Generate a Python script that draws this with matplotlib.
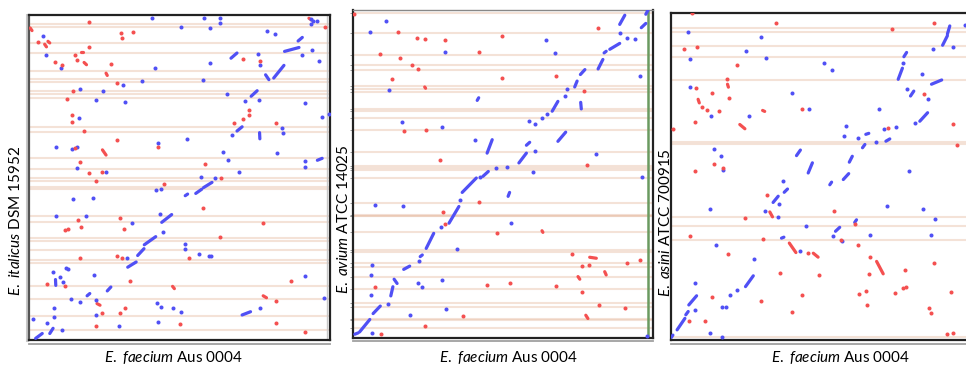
import numpy as np
import matplotlib
matplotlib.use("Agg")
import matplotlib.pyplot as plt

# Dot plots of three Enterococcus genomes against E. faecium Aus 0004.
# Positions are given as % of each genome length (x: Aus 0004, y: other genome).
# Runs are (x0, y0, x1, y1) match blocks, dots are single short matches.

# ---- E. italicus DSM 15952 ----
ita_fwd_runs = [(2.2, 0.5, 4.4, 2.0), (6.9, 2.0, 8.0, 3.6), (19.3, 13.6, 20.2, 14.3),
                (26.0, 15.1, 27.2, 16.3), (32.8, 22.4, 35.6, 24.0), (36.1, 26.0, 38.2, 28.1),
                (38.3, 29.3, 42.1, 31.8), (44.1, 36.2, 47.4, 38.6), (51.9, 44.4, 52.7, 44.9),
                (55.4, 45.1, 57.4, 46.4), (58.0, 46.9, 60.8, 48.5), (69.1, 64.3, 70.8, 65.6),
                (73.8, 75.0, 75.8, 76.7), (81.3, 80.6, 84.7, 84.5), (84.9, 88.8, 89.7, 90.0),
                (89.4, 92.0, 90.8, 93.1), (67.1, 86.7, 69.1, 88.3), (95.8, 55.3, 97.4, 55.9),
                (70.8, 7.7, 73.6, 8.7), (8.8, 18.6, 8.9, 16.8), (78.6, 81.6, 79.7, 80.1),
                (76.6, 63.8, 76.7, 61.9)]
ita_fwd_dots = [(8.3, 9.7), (8.2, 7.1), (6.1, 5.1), (1.3, 6.6), (10.8, 3.1), (13.8, 12.6),
                (16.9, 11.7), (22.1, 12.2), (22.4, 7.7), (44.4, 33.2), (43.6, 38.8), (61.7, 49.8),
                (57.2, 50.2), (64.4, 58.0), (66.0, 55.3), (67.4, 63.1), (71.9, 73.5), (76.3, 73.8),
                (76.9, 84.7), (76.1, 88.0), (90.8, 87.6), (94.1, 89.1), (96.3, 85.9), (93.6, 98.8),
                (94.4, 98.2), (95.8, 98.3), (93.8, 97.1), (79.1, 95.1), (81.7, 94.3), (63.3, 99.0),
                (63.6, 97.4), (60.0, 96.1), (50.6, 96.4), (58.0, 99.2), (41.0, 99.2), (60.0, 85.2),
                (57.8, 80.0), (65.8, 75.7), (41.9, 83.7), (37.4, 79.8), (31.3, 78.6), (31.9, 73.3),
                (22.4, 73.8), (24.7, 76.7), (16.9, 77.3), (10.6, 83.7), (5.8, 87.8), (4.7, 93.6),
                (16.7, 68.2), (14.4, 58.7), (16.0, 59.5), (9.1, 59.5), (14.7, 43.4), (21.3, 43.6),
                (16.0, 52.8), (25.6, 51.8), (9.1, 38.3), (18.9, 38.1), (34.1, 35.9), (42.2, 46.2),
                (43.9, 46.6), (42.8, 60.7), (52.4, 61.9), (51.7, 29.6), (51.7, 27.9), (56.6, 26.5),
                (59.7, 25.7), (60.6, 25.7), (32.6, 25.3), (12.4, 22.2), (13.0, 21.9), (8.0, 20.9),
                (10.2, 19.4), (11.3, 17.9), (21.6, 19.9), (42.4, 11.4), (43.9, 10.2), (48.0, 10.0),
                (50.6, 8.7), (42.8, 5.6), (29.9, 4.4), (69.7, 51.8), (84.1, 65.3), (84.3, 63.8),
                (82.4, 57.4), (91.6, 55.1), (91.6, 53.3), (97.2, 68.7), (99.8, 69.6), (91.7, 19.6),
                (98.0, 12.8), (76.7, 9.7), (91.7, 72.8)]
ita_rev_runs = [(0.4, 96.0, 1.0, 95.2), (5.2, 91.0, 5.8, 90.2), (6.3, 91.9, 6.9, 91.4),
                (17.2, 88.6, 18.0, 88.6), (18.3, 85.4, 19.1, 84.7), (25.6, 82.1, 26.0, 81.4),
                (24.4, 58.5, 25.6, 56.9), (47.7, 16.5, 48.3, 15.8), (22.6, 11.2, 23.6, 10.7),
                (77.8, 13.6, 78.9, 13.0), (93.0, 99.0, 93.8, 98.5)]
ita_rev_dots = [(3.0, 91.6), (15.2, 87.8), (16.0, 86.2), (8.8, 85.5), (10.8, 84.7), (20.0, 90.1),
                (20.0, 97.7), (30.4, 94.4), (30.8, 93.0), (34.7, 94.8), (27.1, 84.9), (29.3, 79.0),
                (14.7, 76.5), (12.7, 74.3), (14.2, 69.1), (14.2, 67.0), (18.2, 64.3), (29.4, 61.4),
                (42.7, 59.5), (44.7, 48.0), (22.1, 48.8), (20.0, 51.5), (24.2, 51.8), (16.9, 54.7),
                (15.2, 59.1), (16.3, 36.9), (17.4, 34.7), (11.9, 33.7), (13.0, 34.1), (30.2, 37.4),
                (31.6, 34.1), (16.9, 25.2), (29.1, 25.8), (30.8, 25.2), (6.0, 17.3), (12.1, 16.7),
                (33.6, 18.1), (24.1, 8.2), (22.1, 4.4), (30.2, 8.2), (32.0, 10.0), (50.2, 4.9),
                (53.2, 25.3), (57.8, 40.6), (63.6, 31.6), (77.8, 36.1), (58.6, 54.1), (63.9, 50.0),
                (68.0, 66.8), (71.1, 68.0), (73.0, 69.3), (73.2, 70.9), (76.6, 85.7), (71.0, 86.5),
                (82.2, 66.8), (82.2, 12.0), (86.9, 18.2), (81.9, 5.1), (91.7, 2.4), (98.2, 96.2)]
ita_contigs = [97.1, 96.3, 91.3, 88.3, 82.7, 80.3, 79.4, 76.7, 75.7, 74.5, 65.5, 64.1, 55.9,
               52.6, 50.0, 49.0, 46.4, 47.0, 38.3, 36.2, 31.3, 30.6, 27.8, 24.7, 23.8, 16.5,
               12.6, 7.4, 3.1]

# ---- E. avium ATCC 14025 ----
avi_fwd_runs = [(0.6, 1.0, 1.7, 1.4), (2.2, 1.7, 5.6, 5.5), (6.7, 7.3, 9.1, 9.6),
                (12.6, 12.7, 13.3, 15.5), (13.7, 17.8, 14.7, 16.5), (16.9, 20.8, 18.9, 21.8),
                (22.4, 24.7, 23.1, 25.2), (24.4, 27.2, 26.9, 31.8), (32.0, 34.9, 35.3, 40.0),
                (36.4, 44.3, 41.1, 48.7), (43.3, 49.2, 45.1, 50.7), (51.7, 43.1, 52.2, 44.3),
                (55.3, 53.3, 57.8, 56.3), (57.8, 58.7, 58.9, 59.6), (44.7, 56.3, 46.4, 60.4),
                (66.4, 69.1, 68.3, 72.1), (68.3, 59.9, 70.9, 62.7), (73.9, 76.5, 74.7, 78.3),
                (75.8, 80.3, 77.3, 81.8), (81.7, 82.0, 83.3, 84.9), (83.7, 86.9, 84.4, 87.4),
                (85.6, 88.0, 88.9, 89.8), (88.9, 95.6, 90.6, 98.4), (96.1, 94.6, 97.6, 95.9),
                (97.6, 98.7, 98.3, 99.9), (41.4, 72.4, 41.9, 73.2), (75.9, 71.8, 76.1, 69.8)]
avi_fwd_dots = [(6.3, 1.4), (11.8, 10.2), (5.9, 13.1), (5.9, 19.0), (6.2, 22.0), (22.0, 23.5),
                (21.7, 16.5), (22.9, 15.5), (18.9, 7.0), (30.9, 8.6), (29.7, 17.6), (34.7, 26.9),
                (29.2, 33.7), (35.8, 42.0), (42.2, 48.9), (47.8, 51.7), (51.3, 52.2), (52.8, 34.9),
                (60.6, 56.8), (60.0, 50.4), (40.8, 60.4), (58.6, 66.0), (60.8, 65.3), (63.0, 67.0),
                (64.7, 68.1), (70.6, 73.7), (71.3, 75.9), (88.9, 93.1), (91.4, 91.6), (93.9, 91.0),
                (95.6, 80.0), (96.4, 48.9), (98.0, 0.4), (10.9, 96.6), (5.6, 93.3), (30.8, 87.3),
                (11.9, 75.7), (16.4, 65.8), (29.8, 64.3), (7.3, 40.5), (16.7, 40.3), (64.2, 90.8),
                (67.3, 86.9), (81.1, 55.9)]
avi_rev_runs = [(23.9, 76.5, 24.2, 76.1), (63.0, 32.6, 63.3, 32.1), (78.9, 24.5, 81.1, 24.2),
                (75.0, 18.6, 75.6, 17.8), (83.9, 20.1, 84.4, 19.1), (77.6, 6.8, 78.3, 5.8)]
avi_rev_dots = [(0.2, 98.7), (15.0, 93.2), (21.4, 91.6), (23.9, 91.0), (30.6, 90.7), (49.7, 92.0),
                (42.0, 87.2), (8.9, 86.7), (15.8, 85.2), (19.6, 83.1), (21.8, 82.0), (13.0, 79.0),
                (49.7, 79.1), (16.9, 63.0), (24.3, 63.5), (29.1, 54.3), (41.9, 41.3), (30.0, 38.2),
                (30.6, 34.6), (48.0, 31.8), (67.8, 79.7), (76.9, 75.4), (81.8, 94.5), (77.9, 52.8),
                (73.0, 25.4), (76.4, 21.8), (78.7, 22.0), (91.4, 22.9), (95.6, 23.7), (76.3, 13.8),
                (82.0, 9.9), (90.6, 8.9), (67.8, 15.8), (52.2, 16.5), (44.8, 15.9), (7.2, 15.5),
                (36.7, 6.5), (23.9, 3.5), (9.2, 1.2)]
avi_contigs = [99.0, 93.1, 86.4, 83.2, 81.6, 76.9, 75.9, 74.9, 69.8, 69.1, 67.0, 63.3, 56.5,
               52.4, 51.9, 51.0, 48.7, 41.2, 37.0, 37.2, 37.4, 32.3, 26.7, 26.1, 22.7, 21.6,
               18.6, 14.7, 10.6, 9.4, 5.3, 5.8, 2.8]
avi_end = 98.3  # end of the Aus 0004 chromosome

# ---- E. asini ATCC 700915 ----
asi_fwd_runs = [(0.3, 0.8, 0.8, 1.5), (2.2, 3.1, 4.8, 6.6), (5.1, 7.7, 5.9, 8.7),
                (6.1, 10.7, 8.7, 13.5), (25.0, 16.3, 27.6, 19.6), (34.2, 42.0, 35.9, 43.9),
                (37.9, 45.1, 39.0, 46.1), (37.0, 31.1, 37.8, 31.4), (42.0, 56.3, 43.3, 58.0),
                (45.9, 51.0, 47.3, 54.1), (53.1, 47.4, 53.7, 48.2), (55.0, 33.2, 56.4, 34.4),
                (57.6, 49.0, 59.4, 50.8), (59.6, 54.3, 60.6, 56.1), (61.4, 35.9, 62.0, 36.7),
                (64.0, 58.7, 64.8, 59.7), (71.8, 60.7, 73.1, 61.4), (75.9, 79.6, 77.3, 83.0),
                (77.8, 86.5, 78.7, 87.8), (80.0, 74.5, 81.1, 76.0), (83.1, 66.8, 85.7, 69.4),
                (87.0, 78.1, 90.4, 79.4), (90.7, 90.0, 92.3, 92.9), (92.3, 93.4, 93.1, 95.9),
                (65.1, 62.8, 66.1, 63.1)]
asi_fwd_dots = [(8.3, 9.2), (8.3, 17.3), (13.1, 2.0), (17.2, 1.0), (17.3, 10.2), (18.4, 10.2),
                (19.8, 13.8), (22.3, 15.3), (27.9, 24.7), (13.1, 40.0), (15.0, 28.9), (14.4, 58.4),
                (16.7, 56.1), (17.6, 52.0), (31.4, 39.5), (36.2, 41.6), (37.6, 48.7), (35.7, 37.6),
                (45.3, 34.9), (43.1, 27.3), (54.0, 31.9), (57.3, 30.1), (57.9, 62.2), (58.4, 65.3),
                (62.6, 61.7), (68.4, 60.4), (71.2, 64.3), (72.3, 40.8), (75.3, 65.1), (69.6, 70.4),
                (66.4, 32.1), (77.6, 84.7), (78.9, 76.5), (81.4, 66.3), (83.9, 81.1), (85.9, 73.7),
                (87.6, 88.8), (94.0, 89.5), (98.1, 96.1), (88.1, 36.9), (86.8, 32.1), (84.2, 40.0),
                (79.4, 51.7), (5.7, 94.1), (6.4, 85.7), (6.4, 77.2), (13.4, 68.4), (26.2, 68.4),
                (25.1, 88.3), (30.1, 92.4), (31.9, 86.2), (40.6, 75.4), (46.2, 70.6), (51.2, 84.7),
                (53.8, 82.3)]
asi_rev_runs = [(19.0, 78.1, 19.3, 77.2), (9.2, 73.5, 9.6, 72.4), (23.1, 65.8, 24.8, 64.5),
                (30.7, 70.1, 31.4, 69.8), (33.1, 39.1, 34.0, 37.6), (39.6, 29.6, 41.8, 26.7),
                (47.6, 26.5, 49.2, 25.3), (68.7, 24.0, 70.9, 20.2)]
asi_rev_dots = [(7.3, 99.8), (35.3, 96.9), (73.7, 94.9), (87.7, 96.9), (4.6, 89.0), (8.8, 89.5),
                (22.0, 84.0), (18.9, 79.8), (8.4, 77.0), (13.9, 75.3), (19.6, 74.0), (10.6, 71.2),
                (12.2, 70.1), (16.1, 69.9), (8.1, 66.5), (43.7, 70.6), (0.7, 64.3), (14.4, 53.6),
                (17.6, 52.4), (8.1, 51.5), (32.3, 44.4), (24.8, 37.2), (6.6, 31.8), (30.9, 30.9),
                (19.2, 26.3), (45.9, 26.7), (54.4, 39.3), (56.8, 30.6), (61.4, 35.5), (62.6, 28.9),
                (66.4, 25.2), (66.2, 20.1), (36.4, 20.4), (49.4, 19.8), (43.9, 13.6), (30.1, 12.0),
                (13.9, 13.1), (11.4, 5.9), (6.1, 5.8), (40.6, 8.5), (62.9, 14.1), (65.0, 15.1),
                (65.6, 10.7), (74.8, 14.5), (77.6, 15.8), (78.4, 16.1), (78.1, 21.4), (87.8, 23.5),
                (86.2, 9.7), (86.8, 8.2), (93.4, 14.6), (92.0, 1.7), (94.0, 2.0), (72.6, 64.6),
                (94.2, 66.0), (95.4, 59.5), (84.4, 75.0)]
asi_contigs = [99.8, 95.4, 94.1, 89.8, 86.5, 79.4, 59.9, 60.5, 37.6, 34.7, 30.4, 1.0]

ref_name = ("E.\\ faecium", "Aus 0004")
query_names = [("E.\\ italicus", "DSM 15952"), ("E.\\ avium", "ATCC 14025"),
               ("E.\\ asini", "ATCC 700915")]

BLUE = "#5050f5"
RED = "#f45050"
CONTIG = "#e8bfa8"

plt.rcParams["font.family"] = ["Lato", "DejaVu Sans"]
plt.rcParams["mathtext.fontset"] = "custom"
plt.rcParams["mathtext.it"] = "Lato:italic"
plt.rcParams["mathtext.rm"] = "Lato"

W, H = 966, 370
fig = plt.figure(figsize=(W / 100, H / 100), dpi=100)


def px_axes(left, top, right, bottom):
    return fig.add_axes([left / W, 1 - bottom / H, (right - left) / W, (bottom - top) / H])


def draw_panel(ax, fwd_runs, fwd_dots, rev_runs, rev_dots, contigs):
    for y in contigs:
        ax.axhline(y, color=CONTIG, alpha=0.45, lw=1.5, zorder=1)
    for runs, col in ((fwd_runs, BLUE), (rev_runs, RED)):
        for x0, y0, x1, y1 in runs:
            ax.plot([x0, x1], [y0, y1], color=col, lw=2.3, solid_capstyle="round", zorder=3)
    for dots, col in ((fwd_dots, BLUE), (rev_dots, RED)):
        d = np.array(dots)
        ax.plot(d[:, 0], d[:, 1], "o", color=col, ms=2.9, mew=0, zorder=3)
    ax.set_xlim(0, 100)
    ax.set_ylim(0, 100)
    ax.set_xticks([])
    ax.set_yticks(contigs)
    ax.set_yticklabels([])
    ax.tick_params(axis="y", length=2.5, width=0.7, color="#999999", pad=0)
    for s in ax.spines.values():
        s.set_color("#222222")
        s.set_linewidth(1.6)
    # x axis ruler under the plot
    ax.plot([0, 1], [-0.011, -0.011], transform=ax.transAxes, clip_on=False,
            color="#a0a0a0", lw=1.3)


ax1 = px_axes(29, 15, 330, 340)
draw_panel(ax1, ita_fwd_runs, ita_fwd_dots, ita_rev_runs, ita_rev_dots, ita_contigs)
ax1.axvline(99.0, color="#c8c8c8", lw=1.0, zorder=1)
ax1.plot([-0.007, -0.007], [0, 1], transform=ax1.transAxes, clip_on=False,
         color="#c8c8c8", lw=2.2)
ax1.spines["left"].set_color("#555555")

ax2 = px_axes(353, 10, 653, 337.5)
draw_panel(ax2, avi_fwd_runs, avi_fwd_dots, avi_rev_runs, avi_rev_dots, avi_contigs)
ax2.axvline(avi_end, color="#6a9a60", lw=1.8, zorder=2)
ax2.spines["top"].set_color("#888888")
ax2.spines["top"].set_linewidth(1.0)

ax3 = px_axes(670.5, 12.5, 970.5, 340)
draw_panel(ax3, asi_fwd_runs, asi_fwd_dots, asi_rev_runs, asi_rev_dots, asi_contigs)
ax3.tick_params(axis="y", length=0)

# axis titles: italic species + regular strain
xlab_pos = [(0.48, 358), (0.518, 358), (0.565, 358)]
for ax, (fx, py) in zip((ax1, ax2, ax3), xlab_pos):
    bb = ax.get_position()
    fig.text(bb.x0 + fx * bb.width, 1 - py / H,
             r"$\mathit{%s}$ %s" % ref_name, ha="center", va="center", fontsize=11)

ylab_pos = [(16, 220.5), (343, 219.5), (666, 222.5)]
for (name, strain), (px, py) in zip(query_names, ylab_pos):
    fig.text(px / W, 1 - py / H, r"$\mathit{%s}$ %s" % (name, strain),
             rotation=90, ha="center", va="center", fontsize=11)

fig.savefig("out.png", dpi=100)
